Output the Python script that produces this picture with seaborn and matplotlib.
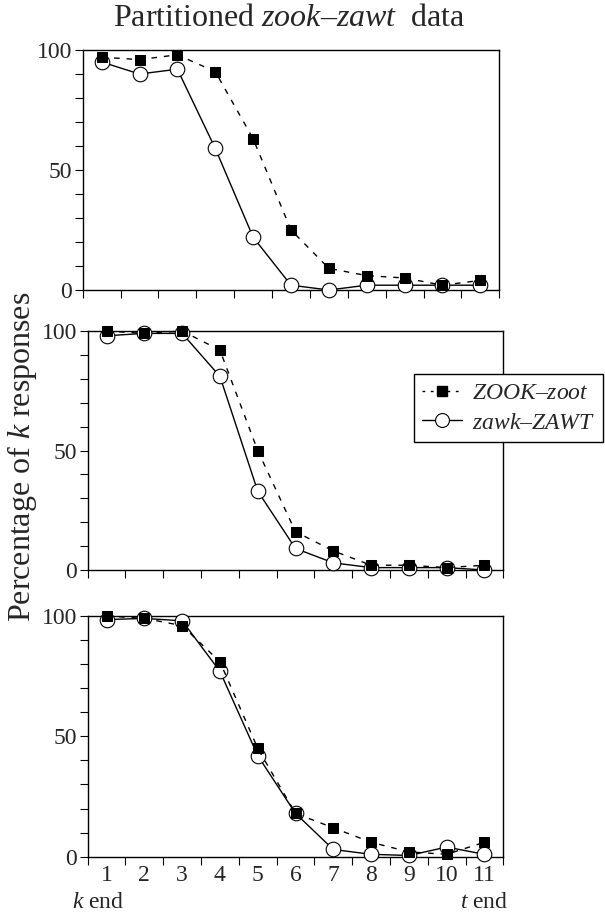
import matplotlib
matplotlib.use("Agg")
import matplotlib.pyplot as plt
import seaborn as sns
import numpy as np
from matplotlib.lines import Line2D

# ---- data ----
steps = [1, 2, 3, 4, 5, 6, 7, 8, 9, 10, 11]
step_labels = ["1", "2", "3", "4", "5", "6", "7", "8", "9", "10", "11"]
p1_zook = [97, 96, 98, 91, 63, 25, 9, 6, 5, 2, 4]
p1_zawk = [95, 90, 92, 59, 22, 2, 0, 2, 2, 2, 2]
p2_zook = [100, 99, 100, 92, 50, 16, 8, 2, 2, 1, 2]
p2_zawk = [98, 99, 99, 81, 33, 9, 3, 1, 1, 1, 0]
p3_zook = [100, 99, 96, 81, 45, 18, 12, 6, 2, 1, 6]
p3_zawk = [98.5, 99, 98, 77, 42, 18, 3, 1, 0.5, 4, 1]
series_labels = ["$ZOOK$–$zoot$", "$zawk$–$ZAWT$"]

sns.set_theme(style="white")
plt.rcParams["font.family"] = ["Liberation Serif", "DejaVu Serif"]
plt.rcParams["mathtext.fontset"] = "custom"
plt.rcParams["mathtext.rm"] = "Liberation Serif"
plt.rcParams["mathtext.it"] = "Liberation Serif:italic"
plt.rcParams["mathtext.default"] = "it"

W, H = 605, 914
fig = plt.figure(figsize=(W / 100, H / 100), dpi=100)

def box(l, r, t, b):
    return [l / W, 1 - b / H, (r - l) / W, (b - t) / H]

rects = [box(82.7, 499.3, 50, 290), box(87.7, 503.3, 331, 570), box(87.7, 503.3, 616, 856.7)]
panels = [(p1_zook, p1_zawk), (p2_zook, p2_zawk), (p3_zook, p3_zawk)]

for i, (rect, (zook, zawk)) in enumerate(zip(rects, panels)):
    ax = fig.add_axes(rect)
    sns.lineplot(x=steps, y=zawk, ax=ax, color="black", linewidth=1.0,
                 marker="o", markersize=10.5, markerfacecolor="white",
                 markeredgecolor="black", markeredgewidth=0.8, clip_on=False, zorder=3)
    sns.lineplot(x=steps, y=zook, ax=ax, color="black", linewidth=1.0,
                 linestyle=(0, (4, 5)), marker="s", markersize=7,
                 markerfacecolor="black", markeredgecolor="black", clip_on=False, zorder=4)
    ax.set_xlim(0.5, 11.5)
    ax.set_ylim(0, 100)
    for s in ax.spines.values():
        s.set_color("black")
        s.set_linewidth(1.0)
    ax.set_xticks(np.arange(0.5, 12, 1.0))
    ax.set_xticklabels([])
    ax.tick_params(axis="x", which="major", direction="out", length=5.5, width=0.8,
                   color="black", bottom=True)
    ax.set_yticks([0, 50, 100])
    ax.set_yticks(np.arange(0, 101, 10), minor=True)
    ax.tick_params(axis="y", which="both", direction="out", length=5.5, width=0.8,
                   color="black", left=True, labelsize=17, pad=2)
    if i == 2:
        ax.set_xticks(steps, minor=True)
        ax.set_xticklabels(step_labels, minor=True)
        ax.tick_params(axis="x", which="minor", length=0, labelsize=17, pad=6)
    ax.set_xlabel("")
    ax.set_ylabel("")
    ax.grid(False)
    if ax.get_legend():
        ax.get_legend().remove()

fig.text(289 / W, 1 - 26 / H, "Partitioned $zook$–$zawt$  data", ha="center",
         va="baseline", fontsize=23)
fig.text(22 / W, 1 - 457 / H, "Percentage of $k$ responses", rotation=90,
         ha="center", va="center", fontsize=23)
fig.text(72 / W, 1 - 902 / H, "$k$ end", ha="left", va="center", fontsize=17)
fig.text(508 / W, 1 - 902 / H, "$t$ end", ha="right", va="center", fontsize=17)

handles = [
    Line2D([], [], color="black", linewidth=1.0, linestyle=(0, (2, 4)), marker="s",
           markersize=7, markerfacecolor="black"),
    Line2D([], [], color="black", linewidth=1.0, marker="o", markersize=10,
           markerfacecolor="white", markeredgewidth=0.8),
]
leg = fig.legend(handles, series_labels, loc="upper left",
                 bbox_to_anchor=(414 / W, 1 - 374 / H), borderaxespad=0,
                 fontsize=17, frameon=True, fancybox=False, handlelength=1.7,
                 handletextpad=0.4, labelspacing=0.35, borderpad=0.35)
leg.get_frame().set_edgecolor("black")
leg.get_frame().set_linewidth(1.0)
leg.get_frame().set_facecolor("white")
leg.get_frame().set_alpha(1)

fig.savefig("out.png", dpi=100)
